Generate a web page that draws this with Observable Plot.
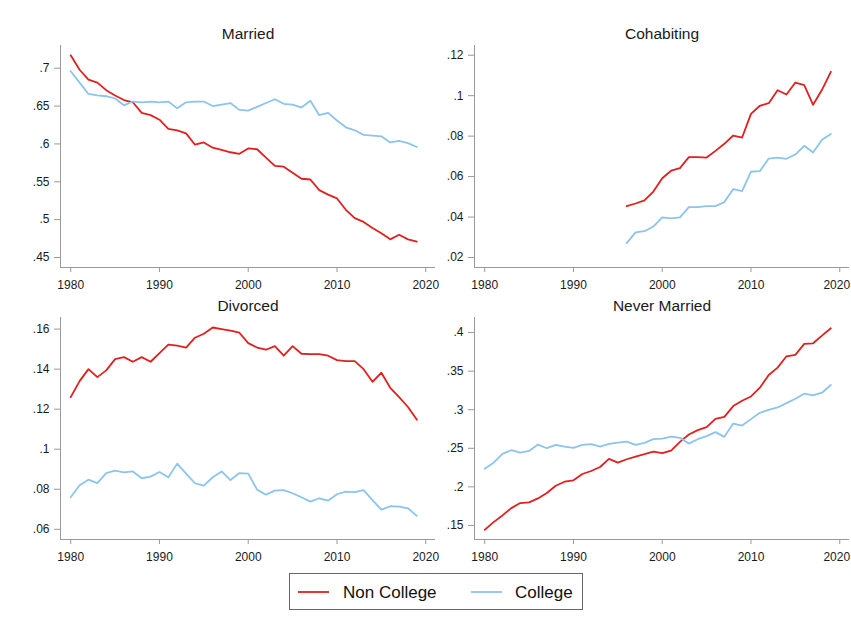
<!DOCTYPE html>
<html>
<head>
<meta charset="utf-8">
<script src="https://cdn.jsdelivr.net/npm/d3@7"></script>
<script src="https://cdn.jsdelivr.net/npm/@observablehq/plot@0.6"></script>
<style>
  html, body { margin: 0; padding: 0; background: #fff; }
  #root { position: relative; width: 851px; height: 623px; background: #fff; overflow: hidden;
          font-family: "Liberation Sans", Arial, sans-serif; }
  .panel { position: absolute; }
  .panel svg { background: transparent; }
  #legend { position: absolute; left: 289px; top: 573px; width: 292px; height: 35px;
            border: 1px solid #666; background: #fff; }
</style>
</head>
<body>
<div id="root">
  <div class="panel" id="p1" style="left:0;top:0"></div>
  <div class="panel" id="p2" style="left:436px;top:0"></div>
  <div class="panel" id="p3" style="left:0;top:290px"></div>
  <div class="panel" id="p4" style="left:436px;top:290px"></div>
  <div id="legend"></div>
</div>
<script>
// ---------------- data ----------------
const groups = ["Non College", "College"];
const years = [1980,1981,1982,1983,1984,1985,1986,1987,1988,1989,1990,1991,1992,1993,1994,1995,1996,1997,1998,1999,
               2000,2001,2002,2003,2004,2005,2006,2007,2008,2009,2010,2011,2012,2013,2014,2015,2016,2017,2018,2019];
const cohabYears = [1996,1997,1998,1999,2000,2001,2002,2003,2004,2005,2006,2007,2008,2009,2010,2011,2012,2013,2014,2015,2016,2017,2018,2019];

const marriedNonCollege = [0.717,0.698,0.685,0.681,0.671,0.664,0.658,0.655,0.641,0.638,0.632,0.620,0.618,0.614,0.599,0.602,0.595,0.592,0.589,0.587,
                           0.594,0.593,0.582,0.571,0.570,0.562,0.554,0.553,0.539,0.533,0.528,0.513,0.502,0.497,0.489,0.482,0.474,0.480,0.474,0.471];
const marriedCollege    = [0.696,0.681,0.666,0.664,0.663,0.660,0.651,0.656,0.655,0.656,0.655,0.656,0.647,0.655,0.656,0.656,0.650,0.652,0.654,0.645,
                           0.644,0.649,0.654,0.659,0.653,0.652,0.648,0.657,0.638,0.641,0.631,0.622,0.618,0.612,0.611,0.610,0.602,0.604,0.601,0.596];

const cohabNonCollege = [0.0454,0.0467,0.0482,0.0526,0.0592,0.0629,0.0642,0.0696,0.0696,0.0694,0.0727,0.0762,0.0803,0.0793,
                         0.0910,0.0950,0.0963,0.1027,0.1006,0.1065,0.1052,0.0955,0.1029,0.1118];
const cohabCollege    = [0.0271,0.0324,0.0330,0.0353,0.0398,0.0393,0.0398,0.0449,0.0449,0.0454,0.0454,0.0474,0.0538,0.0528,
                         0.0624,0.0627,0.0689,0.0694,0.0688,0.0709,0.0752,0.0719,0.0782,0.0811];

const divorcedNonCollege = [0.126,0.134,0.140,0.136,0.1394,0.145,0.146,0.1437,0.146,0.1437,0.148,0.1523,0.1517,0.1508,0.1557,0.1577,0.1608,0.160,0.1592,0.1582,
                            0.153,0.1508,0.1497,0.1515,0.1467,0.1515,0.1477,0.1475,0.1475,0.1467,0.1445,0.144,0.144,0.140,0.1337,0.1382,0.1307,0.126,0.1211,0.1147];
const divorcedCollege    = [0.076,0.082,0.0848,0.0831,0.0881,0.0893,0.0884,0.0889,0.0855,0.0863,0.0886,0.086,0.0928,0.0878,0.083,0.0818,0.086,0.0889,0.0846,0.0881,
                            0.0878,0.0798,0.0773,0.0793,0.0796,0.078,0.076,0.0738,0.0755,0.0743,0.0775,0.0788,0.0786,0.0796,0.0746,0.0698,0.0715,0.0713,0.0705,0.0667];

const neverNonCollege = [0.1443,0.1543,0.163,0.1725,0.179,0.180,0.185,0.192,0.2015,0.2067,0.2085,0.2167,0.2206,0.2258,0.2362,0.2314,0.2358,0.2392,0.2423,0.2457,
                         0.2436,0.247,0.2583,0.2678,0.2735,0.2774,0.2882,0.2908,0.3047,0.3116,0.3172,0.3285,0.345,0.3545,0.3692,0.371,0.3853,0.3861,0.396,0.4056];
const neverCollege    = [0.2236,0.2314,0.2427,0.2475,0.2444,0.2466,0.2548,0.2501,0.2544,0.2522,0.2505,0.2544,0.2553,0.2522,0.2557,0.2574,0.2587,0.2544,0.257,0.2618,
                         0.2626,0.2652,0.2635,0.2561,0.2618,0.2657,0.2709,0.2648,0.2821,0.2795,0.2878,0.296,0.2999,0.3029,0.3086,0.3142,0.3207,0.3185,0.322,0.332];

const xTicks = [1980, 1990, 2000, 2010, 2020];
const marriedTicks = [0.45, 0.5, 0.55, 0.6, 0.65, 0.7];
const cohabTicks = [0.02, 0.04, 0.06, 0.08, 0.1, 0.12];
const divorcedTicks = [0.06, 0.08, 0.1, 0.12, 0.14, 0.16];
const neverTicks = [0.15, 0.2, 0.25, 0.3, 0.35, 0.4];

// ---------------- style ----------------
const RED = "#e0201e";
const BLUE = "#8cc4ec";
const AXIS = "#9a9a9a";
const TEXT = "#1a1a1a";
const FONT = '"Liberation Sans", Arial, sans-serif';

function rows(xs, a, b) {
  const out = [];
  xs.forEach((x, i) => out.push({year: x, value: a[i], group: groups[0]}));
  xs.forEach((x, i) => out.push({year: x, value: b[i], group: groups[1]}));
  return out;
}
const fmt = d => String(+d.toFixed(3)).replace(/^0\./, ".");

function panel({title, data, yDomain, yTicks, width, height, marginLeft, marginRight, marginTop, marginBottom, lastDx = 0}) {
  const xDomain = [1978.85, 2021.1];
  const axisOpts = {tickFormat: d => String(d), tickSize: 5, tickPadding: 8, stroke: AXIS, fill: TEXT, label: null};
  return Plot.plot({
    width, height, marginLeft, marginRight, marginTop, marginBottom,
    style: {fontFamily: FONT, fontSize: "12px", background: "transparent", overflow: "visible"},
    x: {domain: xDomain},
    y: {domain: yDomain},
    color: {domain: groups, range: [RED, BLUE]},
    marks: [
      Plot.ruleX([xDomain[0]], {stroke: AXIS, strokeWidth: 1}),
      Plot.ruleY([yDomain[0]], {stroke: AXIS, strokeWidth: 1}),
      Plot.axisX({...axisOpts, ticks: xTicks.slice(0, -1)}),
      // last tick: tick line at its exact place, label nudged inside the window
      Plot.axisX({...axisOpts, ticks: xTicks.slice(-1), tickFormat: () => ""}),
      Plot.axisX({...axisOpts, ticks: xTicks.slice(-1), tickSize: 0, tickPadding: 13, dx: lastDx}),
      Plot.axisY({ticks: yTicks, tickFormat: fmt, tickSize: 6, tickPadding: 5,
                  stroke: AXIS, fill: TEXT, label: null}),
      Plot.line(data, {x: "year", y: "value", stroke: "group", z: "group", strokeWidth: 1.8}),
      Plot.text([title], {frameAnchor: "top", dy: -11, fontSize: 15.5, fill: TEXT, lineAnchor: "middle"})
    ]
  });
}

document.getElementById("p1").append(panel({
  title: "Married", data: rows(years, marriedNonCollege, marriedCollege),
  yDomain: [0.4368, 0.730], yTicks: marriedTicks,
  width: 436, height: 300, marginLeft: 60, marginRight: 1, marginTop: 45, marginBottom: 33
}));
document.getElementById("p2").append(panel({
  title: "Cohabiting", data: rows(cohabYears, cohabNonCollege, cohabCollege),
  yDomain: [0.01506, 0.1248], yTicks: cohabTicks,
  width: 415, height: 300, marginLeft: 38, marginRight: 2, marginTop: 45, marginBottom: 33, lastDx: -3
}));
document.getElementById("p3").append(panel({
  title: "Divorced", data: rows(years, divorcedNonCollege, divorcedCollege),
  yDomain: [0.0549, 0.1658], yTicks: divorcedTicks,
  width: 436, height: 280, marginLeft: 60, marginRight: 1, marginTop: 27, marginBottom: 31
}));
document.getElementById("p4").append(panel({
  title: "Never Married", data: rows(years, neverNonCollege, neverCollege),
  yDomain: [0.1318, 0.4195], yTicks: neverTicks,
  width: 415, height: 280, marginLeft: 38, marginRight: 2, marginTop: 27, marginBottom: 31, lastDx: -3
}));

// ---------------- legend ----------------
const legend = d3.select("#legend").append("svg")
  .attr("width", 292).attr("height", 35)
  .style("font-family", FONT).style("display", "block");
const items = [
  {label: groups[0], color: RED, x0: 8, x1: 39, tx: 53},
  {label: groups[1], color: BLUE, x0: 181, x1: 212, tx: 225}
];
for (const it of items) {
  legend.append("line").attr("x1", it.x0).attr("x2", it.x1).attr("y1", 18).attr("y2", 18)
    .attr("stroke", it.color).attr("stroke-width", 1.8);
  legend.append("text").attr("x", it.tx).attr("y", 18).attr("dy", "0.35em")
    .attr("font-size", 17).attr("fill", "#111").text(it.label);
}
</script>
</body>
</html>
